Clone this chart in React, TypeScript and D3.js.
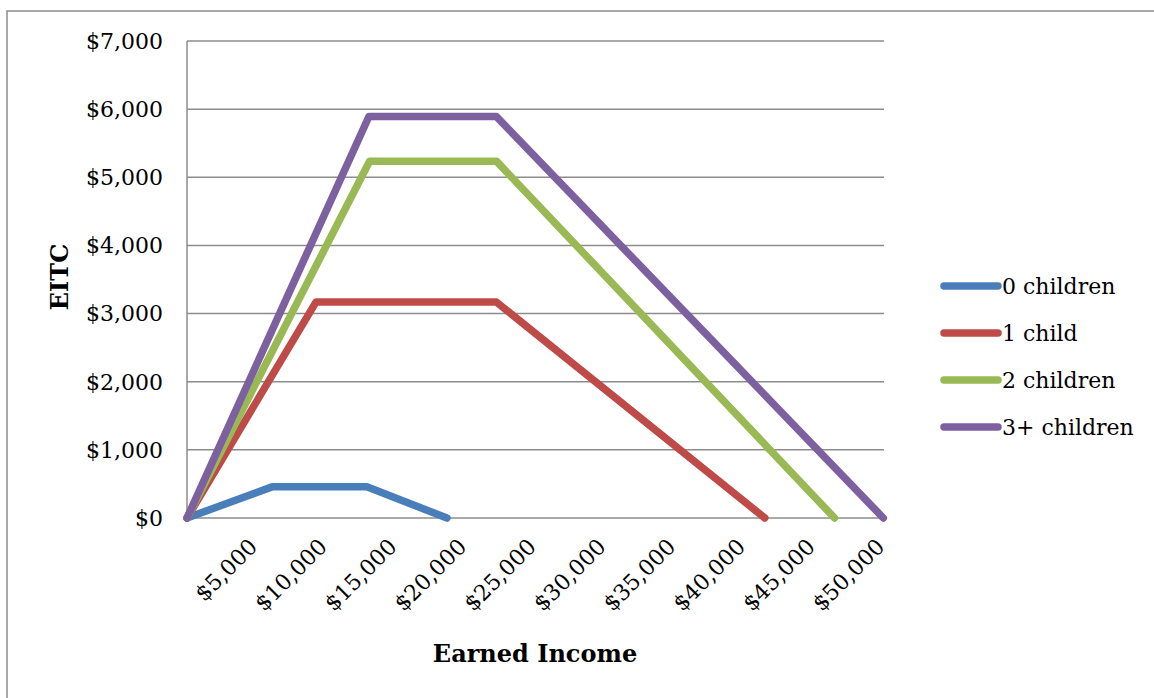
import React from "react";
import * as d3 from "d3";

const seriesNames = ["0 children", "1 child", "2 children", "3+ children"];
const seriesColors = ["#4A7EBB", "#BE4B48", "#98B954", "#7D60A0"];
const income0 = [0, 6100, 12900, 18650];
const eitc0 = [0, 457, 457, 0];
const income1 = [0, 9250, 22200, 41450];
const eitc1 = [0, 3169, 3169, 0];
const income2 = [0, 13100, 22200, 46450];
const eitc2 = [0, 5236, 5236, 0];
const income3 = [0, 13050, 22200, 49950];
const eitc3 = [0, 5891, 5891, 0];
const xTicks = [5000, 10000, 15000, 20000, 25000, 30000, 35000, 40000, 45000, 50000];
const yTicks = [0, 1000, 2000, 3000, 4000, 5000, 6000, 7000];

const FONT = "'DejaVu Serif', serif";

export default function App() {
  const W = 1154, H = 698;
  const left = 187, right = 884, top = 41, bottom = 518;
  const x = d3.scaleLinear().domain([0, 50000]).range([left, right]);
  const y = d3.scaleLinear().domain([0, 7000]).range([bottom, top]);
  const fmt = (v: number) => "$" + d3.format(",")(v);
  const xs = [income0, income1, income2, income3];
  const ys = [eitc0, eitc1, eitc2, eitc3];
  const line = d3.line<[number, number]>().x(d => x(d[0])).y(d => y(d[1]));
  const legendY = [286, 333, 380, 427];

  return (
    <div style={{ position: "absolute", left: 0, top: 0 }}>
      <svg width={W} height={H} style={{ display: "block", background: "#fff" }}>
        <rect x={7} y={11} width={W + 20} height={H + 20} fill="none" stroke="#8c8c8c" strokeWidth={1.5} />
        {yTicks.map(t => (
          <g key={t}>
            <line x1={left} x2={right} y1={y(t)} y2={y(t)} stroke="#8c8c8c" strokeWidth={1.5} />
            <text x={163} y={y(t)} dy="0.36em" textAnchor="end" fontFamily={FONT} fontSize={22} fill="#000">{fmt(t)}</text>
          </g>
        ))}
        <line x1={left} x2={left} y1={top} y2={bottom} stroke="#8c8c8c" strokeWidth={1.5} />
        {xTicks.map(t => (
          <text key={t} transform={`translate(${x(t) + 2},${bottom + 30}) rotate(-45)`} textAnchor="end" fontFamily={FONT} fontSize={22} fill="#000">{fmt(t)}</text>
        ))}
        {xs.map((xv, i) => (
          <path key={i} d={line(xv.map((v, j) => [v, ys[i][j]] as [number, number])) || ""} fill="none" stroke={seriesColors[i]} strokeWidth={7.5} strokeLinejoin="round" strokeLinecap="round" />
        ))}
        <text transform={`translate(68,277) rotate(-90)`} textAnchor="middle" fontFamily={FONT} fontSize={24} fontWeight="bold" fill="#000">EITC</text>
        <text x={535} y={662} textAnchor="middle" fontFamily={FONT} fontSize={24} fontWeight="bold" fill="#000">Earned Income</text>
        {seriesNames.map((n, i) => (
          <g key={n}>
            <line x1={944} x2={998} y1={legendY[i]} y2={legendY[i]} stroke={seriesColors[i]} strokeWidth={7.5} strokeLinecap="round" />
            <text x={1002} y={legendY[i]} dy="0.36em" fontFamily={FONT} fontSize={22} fill="#000">{n}</text>
          </g>
        ))}
      </svg>
    </div>
  );
}
